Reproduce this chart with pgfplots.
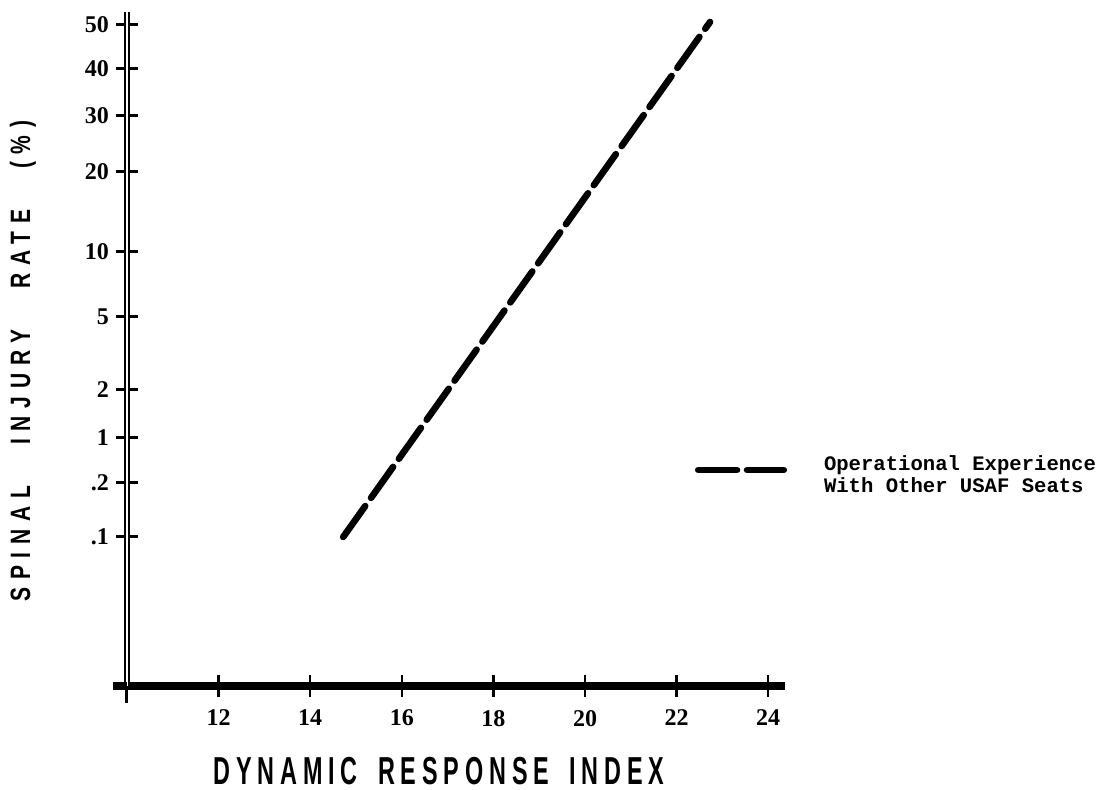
\documentclass[border=0pt]{standalone}
\usepackage{fontspec}
\setmainfont{Liberation Serif}
\newfontfamily\legfont{Liberation Mono}
\newfontfamily\xlabfont[FakeStretch=0.6,LetterSpace=15]{Liberation Sans}
\newfontfamily\ylabfont[FakeStretch=0.75,LetterSpace=28]{Liberation Sans}
\usepackage{pgfplots}
\pgfplotsset{compat=1.18}
\begin{document}
\begin{tikzpicture}
\path[use as bounding box] (-63.5pt,-52pt) rectangle (490pt,343pt);
\begin{axis}[
  at={(0pt,0pt)}, anchor=south west,
  x=22.9pt, y=0.5pt,
  xmin=10, xmax=24.37, ymin=0, ymax=674,
  axis x line=bottom, axis y line=left,
  x axis line style={-, line width=4pt},
  y axis line style={-, line width=1.2pt, double, double distance=1pt},
  clip=false,
  /pgf/number format/assume math mode=true,
  xtick={12,14,16,18,20,22,24}, xticklabels={12,14,16,18,20,22,24},
  ytick={149,203,248,296,369,434,514,570,617,661},
  yticklabels={.1,.2,1,2,5,10,20,30,40,50},
  tick align=center, major tick length=11pt,
  xtick style={line width=1.2pt, black},
  ytick style={line width=1.5pt, black},
  ticklabel style={font=\bfseries\fontsize{12pt}{12pt}\selectfont},
  xticklabel style={yshift=-3pt},
  xlabel={DYNAMIC\hspace{4pt} RESPONSE\hspace{4pt} INDEX},
  ylabel={SPINAL\hspace{13.5pt} INJURY\hspace{13.5pt} RATE\hspace{13.5pt} (\%)},
  xlabel style={at={(axis description cs:0.474,-0.126)}, anchor=center, font=\xlabfont\bfseries\fontsize{19.5pt}{20pt}\selectfont},
  ylabel style={at={(axis description cs:-0.158,0.482)}, anchor=center, font=\ylabfont\bfseries\fontsize{14pt}{14pt}\selectfont},
  legend style={at={(axis cs:22.40,216)}, anchor=west, draw=none, fill=none,
    inner sep=0pt, outer sep=0pt, nodes={inner sep=0pt},
    legend cell align=left,
    font=\legfont\bfseries\fontsize{10.3pt}{11pt}\selectfont},
]
\addplot[black, mark=none, line width=3.3pt, line cap=round,
  dash pattern=on 19pt off 5pt,
  legend image code/.code={
    \draw[solid, black, line width=3.3pt, line cap=round] (1.6pt,0pt) -- (21pt,0pt);
    \draw[solid, black, line width=3.3pt, line cap=round] (26pt,0pt) -- (44.4pt,0pt);
    \path[draw=none] (0pt,0pt) -- (64.5pt,0pt);
  }] coordinates {(14.72,149) (22.73,664)};
\addlegendentry{\begin{tabular}{@{}l@{}}Operational Experience\\With Other USAF Seats\end{tabular}}
\draw[line width=4pt] (axis cs:9.69,0) -- (axis cs:10,0);
\draw[line width=1.5pt] (axis cs:10,0) -- (axis cs:10,-17);
\end{axis}
\end{tikzpicture}
\end{document}
